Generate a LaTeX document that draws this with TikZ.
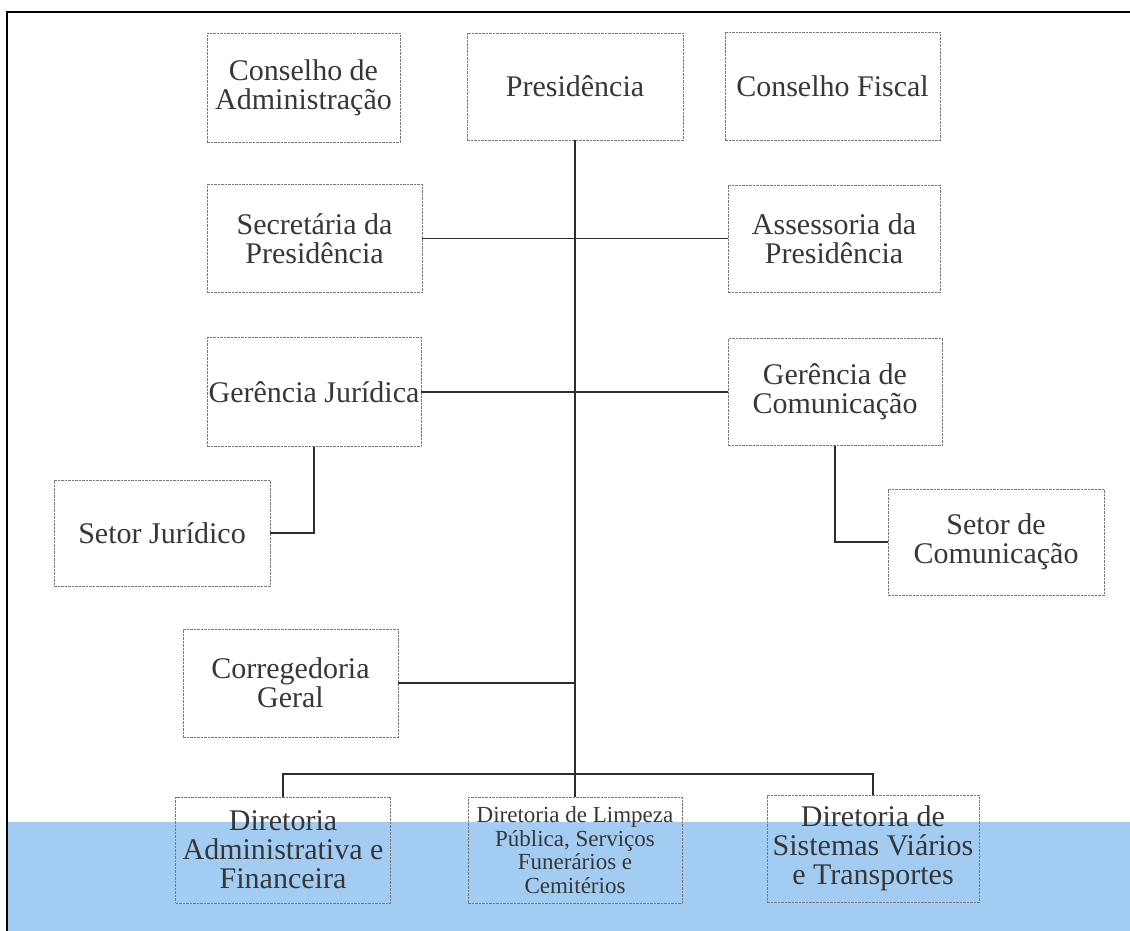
\documentclass[tikz,border=0pt]{standalone}
\usepackage{fontspec}
\setmainfont{Liberation Serif}
\definecolor{band}{RGB}{163,204,243}
\definecolor{boxgray}{RGB}{120,120,120}
\definecolor{txt}{RGB}{55,55,55}
\definecolor{linec}{RGB}{45,45,45}
\tikzset{
  box/.style={draw=boxgray, dash pattern=on 2.5pt off 1pt, line width=0.8pt,
    align=center, text=txt, inner sep=0pt,
    font=\fontsize{30}{29}\selectfont},
  smallbox/.style={box, font=\fontsize{23}{23.5}\selectfont},
  conn/.style={draw=linec, line width=1.8pt}
}
\begin{document}
\begin{tikzpicture}[x=1pt,y=-1pt]
\useasboundingbox (0,0) rectangle (1130,931);
\fill[band] (7,822) rectangle (1130,931);
\draw[line width=2pt] (6.5,931) -- (6.5,12) -- (1130,12);

\node[box, minimum width=193pt, minimum height=109pt] (ca) at (303.5,87.5) {Conselho de\\Administração};
\node[box, minimum width=216pt, minimum height=107pt] (pres) at (575,86.5) {Presidência};
\node[box, minimum width=215pt, minimum height=108pt] (cf) at (832.5,86) {Conselho Fiscal};
\node[box, minimum width=215pt, minimum height=108pt] (sec) at (314.5,238.5) {Secretária da\\Presidência};
\node[box, minimum width=212pt, minimum height=107pt] (ass) at (834,238.5) {Assessoria da\\Presidência};
\node[box, minimum width=214pt, minimum height=109pt] (gj) at (314,392) {Gerência Jurídica};
\node[box, minimum width=214pt, minimum height=107pt] (gc) at (835,392) {Gerência de\\Comunicação};
\node[box, minimum width=216pt, minimum height=106pt] (sj) at (162,533) {Setor Jurídico};
\node[box, minimum width=216pt, minimum height=106pt] (sc) at (996,542) {Setor de\\Comunicação};
\node[box, minimum width=215pt, minimum height=108pt] (cg) at (290.5,683) {Corregedoria\\Geral};
\node[box, minimum width=215pt, minimum height=106pt] (da) at (283,850) {Diretoria\\Administrativa e\\Financeira};
\node[smallbox, minimum width=214pt, minimum height=106pt] (dl) at (575,850) {Diretoria de Limpeza\\Pública, Serviços\\Funerários e\\Cemitérios};
\node[box, minimum width=212pt, minimum height=107pt] (ds) at (873,848.5) {Diretoria de\\Sistemas Viários\\e Transportes};

\coordinate (bus) at (575,774);
\draw[conn] (pres.south) -- (dl.north);
\draw[conn] (sec.east) -- (ass.west);
\draw[conn] (gj.east) -- (gc.west);
\draw[conn] (gj.south) |- (sj.east);
\draw[conn] (gc.south) |- (sc.west);
\draw[conn] (cg.east) -- (cg.east -| pres.south);
\draw[conn] (da.north) |- (bus) -| (ds.north);
\end{tikzpicture}
\end{document}
